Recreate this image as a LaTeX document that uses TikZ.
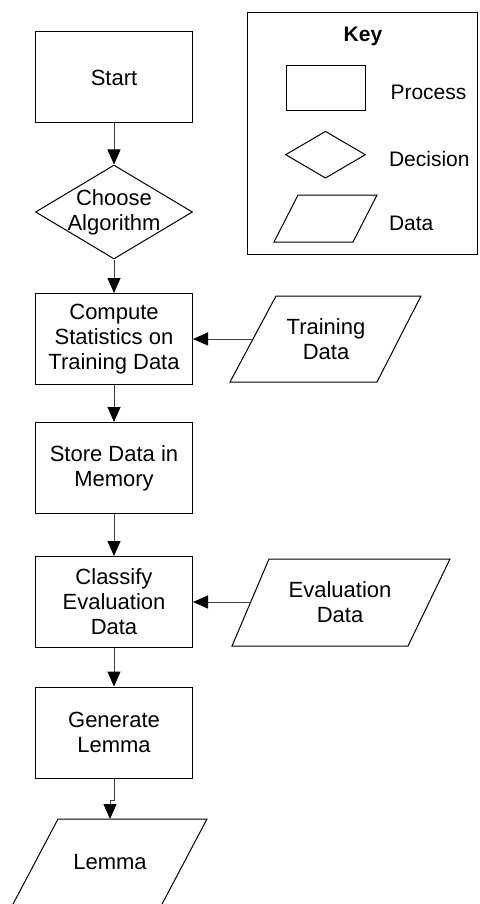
\documentclass[tikz,border=0pt]{standalone}
\usepackage{fontspec}
\setmainfont{Liberation Sans}
\usetikzlibrary{shapes.geometric,arrows.meta}
\begin{document}
\begin{tikzpicture}[x=1pt,y=-1pt,font=\fontsize{22}{25}\selectfont,
  process/.style={draw,line width=1pt,minimum width=157pt,minimum height=91pt,align=center,inner sep=0pt},
  decision/.style={draw,diamond,line width=1pt,inner sep=0pt},
  datatext/.style={align=center,inner sep=0pt},
  datapath/.style={draw,line width=1pt},
  keylabel/.style={anchor=base west,font=\fontsize{21}{25}\selectfont},
  flowline/.style={draw=black!75,line width=1pt,-{Triangle[width=13pt,length=15pt,color=black]}}]
\useasboundingbox (0,0) rectangle (479,904);
\clip (0,0) rectangle (479,904);
% main chart
\node[process] (start) at (114,77.5) {Start};
\node[decision,minimum width=157pt,minimum height=94pt] (choose) at (114,212) {};
\node[datatext] (chooselbl) at (choose) {Choose\\Algorithm};
\node[process] (compute) at (114,339) {Compute\\Statistics on\\Training Data};
\node[process] (store) at (114,468) {Store Data in\\Memory};
\node[process] (classify) at (114,602) {Classify\\Evaluation\\Data};
\node[process] (generate) at (114,732.5) {Generate\\Lemma};
% data inputs and output
\draw[datapath] (276,296)--(421,296)--(377,382)--(230,382)--cycle;
\node[datatext] (train) at (326,339) {Training\\Data};
\coordinate (trainin) at (253,339);
\draw[datapath] (269,559)--(450,559)--(408,646)--(232,646)--cycle;
\node[datatext] (eval) at (340,602) {Evaluation\\Data};
\coordinate (evalin) at (251,602);
\draw[datapath] (58,819)--(207,819)--(161,906)--(12,906)--cycle;
\node[datatext] (lemma) at (110,862) {Lemma};
\coordinate (lemmain) at (110,819);
% connectors
\draw[flowline] (start) -- (choose);
\draw[flowline] (choose) -- (compute);
\draw[flowline] (trainin) -- (compute);
\draw[flowline] (compute) -- (store);
\draw[flowline] (store) -- (classify);
\draw[flowline] (evalin) -- (classify);
\draw[flowline] (classify) -- (generate);
\draw[flowline] (generate.south) -- ++(0,22) -| (lemmain);
% key
\draw[line width=1pt] (247,13) rectangle (477.5,254);
\node[font=\fontsize{21}{25}\selectfont\bfseries,anchor=base] (keytitle) at (363,42) {Key};
\node[draw,line width=1pt,minimum width=79pt,minimum height=45pt,inner sep=0pt] (keyproc) at (325.5,88.5) {};
\node[keylabel] (keyproclbl) at (387,100) {Process};
\node[decision,minimum width=80pt,minimum height=47pt] (keydec) at (325.5,154.7) {};
\node[keylabel] (keydeclbl) at (385.5,166.7) {Decision};
\draw[datapath] (298,195)--(377,195)--(353,242)--(274,242)--cycle;
\node[keylabel] (keydatalbl) at (385.5,230) {Data};
\end{tikzpicture}
\end{document}
